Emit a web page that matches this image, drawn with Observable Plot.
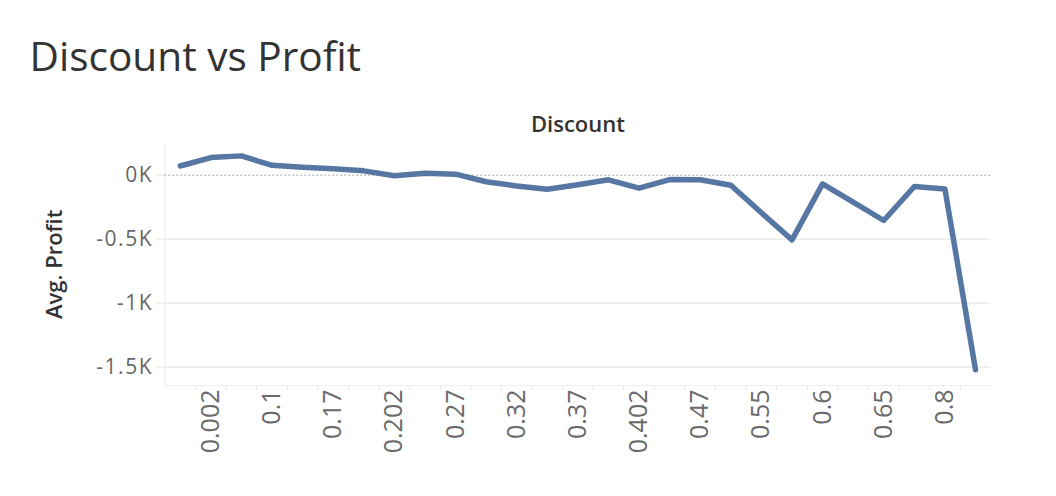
<!DOCTYPE html>
<html>
<head>
<meta charset="utf-8">
<script src="https://cdn.jsdelivr.net/npm/d3@7"></script>
<script src="https://cdn.jsdelivr.net/npm/@observablehq/plot@0.6"></script>
<style>
  html, body { margin: 0; padding: 0; background: #fff; }
  body { width: 1056px; height: 496px; overflow: hidden; font-family: "Open Sans", Lato, sans-serif; }
  #title { height: 100px; box-sizing: border-box; padding-top: 36px; padding-left: 29.5px;
           font-size: 40.6px; line-height: 1; color: #333; font-weight: 400; white-space: nowrap; }
  #chart svg { display: block; }
</style>
</head>
<body>
<div id="title">Discount vs Profit</div>
<div id="chart"></div>
<script>
const discounts = ["0", "0.002", "0.07", "0.1", "0.15", "0.17", "0.2", "0.202", "0.25", "0.27",
  "0.3", "0.32", "0.35", "0.37", "0.4", "0.402", "0.45", "0.47", "0.5", "0.55",
  "0.57", "0.6", "0.602", "0.65", "0.7", "0.8", "0.85"];
const avgProfit = [72, 138, 151, 77, 63, 51, 34, -5, 15, 8,
  -51, -84, -110, -74, -36, -101, -34, -35, -78, -294,
  -505, -68, -211, -354, -88, -107, -1520];
const yTicks = [0, -500, -1000, -1500];
const yTickLabels = ["0K", "-0.5K", "-1K", "-1.5K"];
const gridValues = [-500, -1000, -1500];

const data = discounts.map((d, i) => ({discount: d, profit: avgProfit[i]}));
const labeled = discounts.filter((d, i) => i % 2 === 1);

const width = 1056, height = 396;
const marginLeft = 164.5, marginRight = 65.7, marginTop = 42.7, marginBottom = 111;
const step = (width - marginLeft - marginRight) / discounts.length;
const grid = "#ececec";
const font = "'Open Sans', Lato, sans-serif";

const chart = Plot.plot({
  width, height, marginLeft, marginRight, marginTop, marginBottom,
  style: {fontFamily: font, background: "#fff"},
  x: {type: "point", domain: discounts, padding: 0.5, round: false, axis: null},
  y: {domain: [-1643, 250], axis: null},
  marks: [
    Plot.ruleY(gridValues, {stroke: grid, strokeWidth: 1.5}),
    Plot.frame({anchor: "left", stroke: "#eeeeee", strokeWidth: 1.2}),
    Plot.frame({anchor: "bottom", stroke: "#eeeeee", strokeWidth: 1.2}),
    Plot.ruleY([0], {stroke: "#b5b5b5", strokeWidth: 1.5, strokeDasharray: "1.5,2.5"}),
    Plot.axisY(yTicks, {
      anchor: "left", tickSize: 8, tickPadding: 4, stroke: grid, strokeWidth: 1.5,
      tickFormat: (d) => yTickLabels[yTicks.indexOf(d)],
      fontSize: 21, fill: "#666", label: null
    }),
    Plot.axisX(discounts.slice(1), {
      anchor: "bottom", tickSize: 5, dx: -step / 2, stroke: "#e6e6e6",
      tickFormat: () => "", label: null
    }),
    Plot.axisX(labeled, {
      anchor: "bottom", tickSize: 0, tickPadding: 4, tickRotate: -90,
      fontSize: 25, fill: "#6a6a6a", label: null
    }),
    Plot.text(["Discount"], {frameAnchor: "top", dy: -27, fontSize: 22, fontWeight: 600, fill: "#333"}),
    Plot.text(["Avg. Profit"], {frameAnchor: "left", dx: -110, rotate: -90, textAnchor: "middle",
      lineAnchor: "middle", fontSize: 22, fontWeight: 600, fill: "#333"}),
    Plot.line(data, {x: "discount", y: "profit", stroke: "#5677a4", strokeWidth: 5.5,
      strokeLinecap: "round", strokeLinejoin: "round"})
  ]
});
// widen the tick label spacing on the y axis a little, like the reference font
chart.querySelectorAll("g[aria-label='y-axis tick label'] text").forEach(t => t.setAttribute("letter-spacing", "1.5"));
document.getElementById("chart").appendChild(chart);
</script>
</body>
</html>
